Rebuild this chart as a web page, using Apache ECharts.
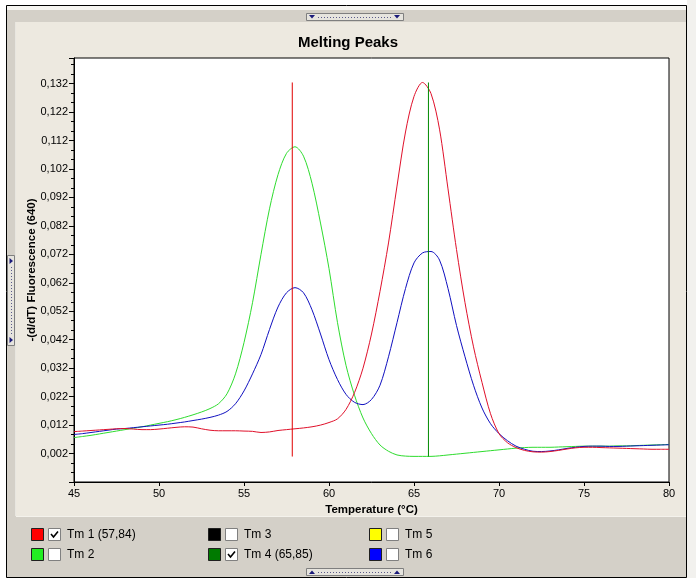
<!DOCTYPE html>
<html>
<head>
<meta charset="utf-8">
<script src="https://cdn.jsdelivr.net/npm/echarts@6/dist/echarts.min.js"></script>
<style>html,body{margin:0;padding:0;background:#fff;}#c{width:696px;height:583px;}</style>
</head>
<body>
<div id="c"></div>
<script>
// ---- data ----
const temps = [45,45.5,46,46.5,47,47.5,48,48.5,49,49.5,50,50.5,51,51.5,52,52.5,53,53.5,54,54.5,55,55.5,56,56.5,57,57.5,58,58.5,59,59.5,60,60.5,61,61.5,62,62.5,63,63.5,64,64.5,65,65.5,66,66.5,67,67.5,68,68.5,69,69.5,70,70.5,71,71.5,72,72.5,73,73.5,74,74.5,75,75.5,76,76.5,77,77.5,78,78.5,79,79.5,80];
const redCurve = [0.0097,0.0099,0.0101,0.0103,0.0105,0.0107,0.0108,0.0106,0.0104,0.0104,0.0106,0.0109,0.0112,0.0114,0.0113,0.0107,0.0102,0.0100,0.0100,0.0100,0.0099,0.0098,0.0094,0.0096,0.0101,0.0104,0.0107,0.0110,0.0114,0.0120,0.0129,0.0142,0.0175,0.0234,0.0320,0.0440,0.0590,0.0760,0.0960,0.1150,0.1275,0.1324,0.1285,0.1160,0.0950,0.0737,0.0550,0.0395,0.0270,0.0160,0.0090,0.0058,0.0041,0.0031,0.0026,0.0025,0.0027,0.0031,0.0036,0.0040,0.0042,0.0042,0.0041,0.0040,0.0039,0.0038,0.0037,0.0036,0.0035,0.0035,0.0035];
const greenCurve = [0.0076,0.0080,0.0084,0.0089,0.0094,0.0099,0.0104,0.0109,0.0114,0.0120,0.0126,0.0132,0.0139,0.0147,0.0156,0.0166,0.0178,0.0195,0.0230,0.0300,0.0410,0.0550,0.0720,0.0880,0.1000,0.1075,0.1098,0.1065,0.0970,0.0830,0.0670,0.0480,0.0330,0.0225,0.0145,0.0090,0.0050,0.0028,0.0015,0.0011,0.0010,0.0010,0.0010,0.0012,0.0015,0.0018,0.0021,0.0024,0.0027,0.0030,0.0033,0.0036,0.0039,0.0041,0.0042,0.0042,0.0042,0.0043,0.0044,0.0045,0.0046,0.0046,0.0046,0.0046,0.0047,0.0047,0.0048,0.0049,0.0050,0.0051,0.0052];
const blueCurve = [0.0087,0.0090,0.0094,0.0098,0.0102,0.0106,0.0108,0.0111,0.0114,0.0117,0.0120,0.0123,0.0127,0.0131,0.0136,0.0141,0.0147,0.0155,0.0168,0.0195,0.0240,0.0300,0.0368,0.0456,0.0535,0.0585,0.0603,0.0585,0.0525,0.0440,0.0350,0.0280,0.0228,0.0200,0.0192,0.0210,0.0260,0.0360,0.0480,0.0600,0.0690,0.0725,0.0730,0.0700,0.0600,0.0470,0.0360,0.0260,0.0180,0.0125,0.0090,0.0065,0.0046,0.0035,0.0028,0.0027,0.0029,0.0033,0.0038,0.0042,0.0045,0.0046,0.0046,0.0045,0.0045,0.0046,0.0047,0.0048,0.0049,0.0050,0.0051];
const tmValues = [57.84, 65.85];
const tmLineBottom = [0.00095, 0.00095];
const tmLineTop = [0.1324, 0.1324];
const legendLabels = ['Tm 1 (57,84)', 'Tm 2', 'Tm 3', 'Tm 4 (65,85)', 'Tm 5', 'Tm 6'];
const legendColors = ['#ff0000', '#22ee22', '#000000', '#007a00', '#ffff00', '#0000ff'];
const legendChecked = [true, false, false, true, false, false];

const FONT = '"Liberation Sans", Arial, sans-serif';
const pairs = arr => temps.map((t, i) => [t, arr[i]]);

// ---- window chrome (graphic) ----
const g = [];
g.push({type:'rect', shape:{x:0,y:0,width:696,height:5}, style:{fill:'#ffffff'}, silent:true});
g.push({type:'rect', shape:{x:0,y:0,width:6,height:583}, style:{fill:'#ffffff'}, silent:true});
g.push({type:'rect', shape:{x:687,y:0,width:9,height:583}, style:{fill:'#f2f1ee'}, silent:true});
g.push({type:'rect', shape:{x:0,y:578,width:696,height:5}, style:{fill:'#ffffff'}, silent:true});
g.push({type:'rect', shape:{x:7,y:6,width:680,height:4}, style:{fill:'#f5f4f0'}, silent:true});
g.push({type:'rect', shape:{x:7,y:10,width:680,height:12}, style:{fill:'#d4d0c8'}, silent:true});
g.push({type:'rect', shape:{x:7,y:10,width:9,height:568}, style:{fill:'#d4d0c8'}, silent:true});
g.push({type:'line', shape:{x1:15.5,y1:22,x2:15.5,y2:516}, style:{stroke:'#e8e6e0',lineWidth:1}, silent:true});
g.push({type:'rect', shape:{x:16,y:516,width:671,height:62}, style:{fill:'#d4d0c8'}, silent:true});
g.push({type:'line', shape:{x1:16,y1:516.5,x2:687,y2:516.5}, style:{stroke:'#f4f2ec',lineWidth:1}, silent:true});
g.push({type:'rect', shape:{x:6.5,y:5.5,width:680,height:572}, style:{fill:null,stroke:'#000',lineWidth:1}, silent:true});

function hHandle(y, up) {
  g.push({type:'rect', shape:{x:306.5,y:y+0.5,width:97,height:7}, style:{fill:'#e6e4de',stroke:'#7f7f7f',lineWidth:1}, silent:true});
  [312, 397].forEach(cx => {
    const pts = up ? [[cx-3,y+6],[cx+3,y+6],[cx,y+2.5]] : [[cx-3,y+2],[cx+3,y+2],[cx,y+5.5]];
    g.push({type:'polygon', shape:{points:pts}, style:{fill:'#1a1a7a'}, silent:true});
  });
  g.push({type:'line', shape:{x1:318,y1:y+4.5,x2:391,y2:y+4.5}, style:{stroke:'#5a5a8a',lineWidth:1,lineDash:[1,2]}, silent:true});
}
hHandle(13, false);
hHandle(568, true);
g.push({type:'rect', shape:{x:7.5,y:255.5,width:7,height:90}, style:{fill:'#e6e4de',stroke:'#7f7f7f',lineWidth:1}, silent:true});
[261, 340].forEach(cy => {
  g.push({type:'polygon', shape:{points:[[9.5,cy-3],[9.5,cy+3],[13,cy]]}, style:{fill:'#1a1a7a'}, silent:true});
});
g.push({type:'line', shape:{x1:11.5,y1:267,x2:11.5,y2:334}, style:{stroke:'#5a5a8a',lineWidth:1,lineDash:[1,2]}, silent:true});

const colX = [31, 208, 369];
const rowY = [528, 548];
legendLabels.forEach((lab, i) => {
  const col = Math.floor(i / 2), row = i % 2;
  const x = colX[col], y = rowY[row];
  g.push({type:'rect', shape:{x:x+0.5,y:y+0.5,width:12,height:12}, style:{fill:legendColors[i],stroke:'#202020',lineWidth:1}, silent:true});
  const bx = x + 17;
  g.push({type:'rect', shape:{x:bx+0.5,y:y+0.5,width:12,height:12}, style:{fill:'#ffffff',stroke:'#808080',lineWidth:1}, silent:true});
  if (legendChecked[i]) {
    g.push({type:'polyline', shape:{points:[[bx+3,y+6],[bx+5.5,y+9],[bx+10,y+3.5]]}, style:{stroke:'#000',lineWidth:1.6,fill:null}, silent:true});
  }
  g.push({type:'text', x:bx+19, y:y+6.5, style:{text:lab, fill:'#000', font:'12px ' + FONT, textVerticalAlign:'middle', verticalAlign:'middle'}, silent:true});
});

const chart = echarts.init(document.getElementById('c'), null, {renderer:'canvas'});
chart.setOption({
  animation: false,
  backgroundColor: '#ede9e0',
  title: {
    text: 'Melting Peaks', left: 'center', top: 35, padding: 0,
    textStyle: {fontFamily: FONT, fontSize: 15, fontWeight: 'bold', color: '#000'}
  },
  grid: {left: 74, top: 58, right: 27, bottom: 101, show: true, backgroundColor: '#ffffff', borderColor: '#000', borderWidth: 1},
  xAxis: {
    type: 'value', min: 45, max: 80, interval: 5,
    axisLine: {show: true, onZero: false, lineStyle: {color: '#000', width: 1}},
    axisTick: {show: true, length: 4, lineStyle: {color: '#000'}},
    splitLine: {show: false},
    axisLabel: {margin: 6, fontFamily: FONT, fontSize: 11, color: '#000'},
    name: 'Temperature (°C)', nameLocation: 'middle', nameGap: 19,
    nameTextStyle: {fontFamily: FONT, fontSize: 11.5, fontWeight: 'bold', color: '#000'}
  },
  yAxis: {
    type: 'value', min: -0.008, max: 0.141, interval: 0.01,
    axisLine: {show: true, onZero: false, lineStyle: {color: '#000', width: 1}},
    axisTick: {show: true, length: 5, lineStyle: {color: '#000'}},
    minorTick: {show: true, splitNumber: 3, length: 3, lineStyle: {color: '#000'}},
    splitLine: {show: false},
    axisLabel: {
      margin: 6, fontFamily: FONT, fontSize: 11, color: '#000',
      formatter: v => (v < 0 || v > 0.135) ? '' : v.toFixed(3).replace('.', ',')
    },
    name: '-(d/dT) Fluorescence (640)', nameLocation: 'middle', nameGap: 36, nameRotate: 90,
    nameMoveOverlap: false,
    nameTextStyle: {fontFamily: FONT, fontSize: 11.5, fontWeight: 'bold', color: '#000'}
  },
  series: [
    {type: 'line', data: pairs(redCurve), showSymbol: false, smooth: 0.3, lineStyle: {color: '#e0102a', width: 1}, itemStyle: {color: '#e0102a'}, z: 3},
    {type: 'line', data: pairs(greenCurve), showSymbol: false, smooth: 0.3, lineStyle: {color: '#2edc2e', width: 1}, itemStyle: {color: '#2edc2e'}, z: 2},
    {type: 'line', data: pairs(blueCurve), showSymbol: false, smooth: 0.3, lineStyle: {color: '#1010c0', width: 1}, itemStyle: {color: '#1010c0'}, z: 2},
    {type: 'line', data: [[tmValues[0], tmLineBottom[0]], [tmValues[0], tmLineTop[0]]], showSymbol: false, lineStyle: {color: '#e00000', width: 1}, z: 5},
    {type: 'line', data: [[tmValues[1], tmLineBottom[1]], [tmValues[1], tmLineTop[1]]], showSymbol: false, lineStyle: {color: '#008a00', width: 1}, z: 5}
  ],
  graphic: {elements: g}
});
</script>
</body>
</html>
